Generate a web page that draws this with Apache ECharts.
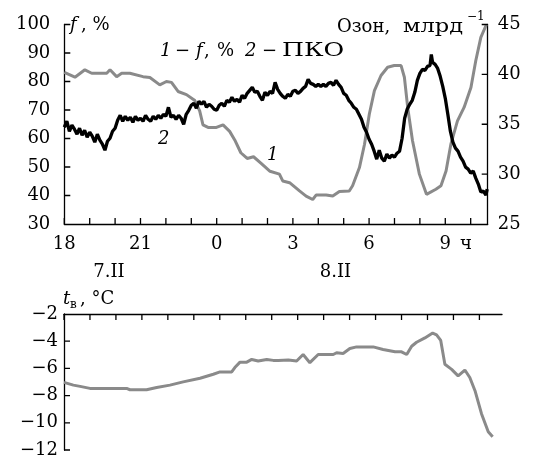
<!DOCTYPE html>
<html>
<head>
<meta charset="utf-8">
<script src="https://cdn.jsdelivr.net/npm/echarts@6/dist/echarts.min.js"></script>
<style>html,body{margin:0;padding:0;background:#fff}#c{width:534px;height:459px}</style>
</head>
<body>
<div id="c"></div>
<script>
// ---- data (x = hours since 18:00 on 7.II) ----
const hourTicks = [0,1,2,3,4,5,6,7,8,9,10,11,12,13,14,15,16];
const hourLabelValues = [0,3,6,9,12,15];
const hourLabels = ['18','21','0','3','6','9'];
const fTicks = [40,50,60,70,80,90,100];
const ozTicks = [30,35,40,45];
const tTicks = [-12,-10,-8,-6,-4];

// curve 1: relative humidity f, %
const fTime = [0,0.42,0.81,1.08,1.67,1.80,2.06,2.26,2.58,3.10,3.37,3.76,4.02,4.22,4.48,4.81,5.14,5.33,5.46,5.66,5.99,6.25,6.51,6.71,6.95,7.2,7.45,7.75,8.1,8.47,8.6,8.87,9.26,9.52,9.78,9.92,10.31,10.57,10.83,11.22,11.35,11.62,11.82,12.01,12.21,12.47,12.73,12.99,13.26,13.39,13.52,13.71,13.98,14.26,14.63,14.83,15.03,15.22,15.48,15.74,16.01,16.20,16.40,16.62];
const fValues = [83.2,81.5,84.1,82.9,82.9,84.1,81.7,82.9,82.9,81.7,81.4,78.8,80,79.7,76.5,75.4,73.3,69.7,64.8,63.9,63.9,64.8,62.5,59.5,55,53,53.6,51.3,48.5,47.5,45.1,44.5,41.6,39.8,38.6,40.2,40.2,39.8,41.4,41.6,43.4,49.8,58,68.6,76.8,82.1,85,85.6,85.6,81.5,70.9,59.2,47.5,40.4,42.2,43.4,48.6,58,66.2,70.9,77.9,87.3,95.5,100];

// curve 2: surface ozone concentration (ПКО), ppb
const ozTime = [0,0.1,0.2,0.3,0.4,0.5,0.6,0.7,0.8,0.9,1.0,1.1,1.2,1.3,1.4,1.5,1.6,1.7,1.8,1.9,2.0,2.1,2.2,2.3,2.4,2.5,2.6,2.7,2.8,2.9,3.0,3.1,3.2,3.3,3.4,3.5,3.6,3.7,3.8,3.9,4.0,4.1,4.2,4.3,4.4,4.5,4.6,4.7,4.8,4.9,5.0,5.1,5.2,5.3,5.4,5.5,5.6,5.7,5.8,5.9,6.0,6.1,6.2,6.3,6.4,6.5,6.6,6.7,6.8,6.9,7.0,7.1,7.2,7.3,7.4,7.5,7.6,7.7,7.8,7.9,8.0,8.1,8.2,8.3,8.4,8.5,8.6,8.7,8.8,8.9,9.0,9.1,9.2,9.3,9.4,9.5,9.6,9.7,9.8,9.9,10.0,10.1,10.2,10.3,10.4,10.5,10.6,10.7,10.8,10.9,11.0,11.1,11.2,11.3,11.4,11.5,11.6,11.7,11.8,11.9,12.0,12.1,12.2,12.3,12.4,12.5,12.6,12.7,12.8,12.9,13.0,13.1,13.2,13.3,13.4,13.5,13.6,13.7,13.8,13.9,14.0,14.1,14.2,14.3,14.4,14.45,14.5,14.6,14.7,14.8,14.9,15.0,15.1,15.2,15.3,15.4,15.5,15.6,15.7,15.8,15.9,16.0,16.1,16.2,16.3,16.4,16.5,16.6,16.65];
const ozValues = [34.7,35.3,34.3,34.9,34.5,34.0,34.6,33.9,34.4,33.7,34.2,33.8,33.2,34.0,33.4,33.0,32.4,33.3,33.6,34.3,34.6,35.4,35.9,35.3,35.8,35.4,35.7,35.2,35.8,35.4,35.6,35.3,35.9,35.5,35.3,35.8,35.5,35.9,35.6,36.0,35.8,36.7,35.7,35.9,35.5,35.9,35.6,35.0,36.0,36.4,36.9,37.1,36.6,37.3,37.0,37.3,36.7,37.0,36.8,36.5,36.4,36.9,37.1,36.8,37.4,37.2,37.7,37.3,37.5,37.2,37.9,37.6,38.1,38.4,38.7,38.2,38.3,37.8,37.4,38.2,37.9,38.3,38.1,39.2,38.5,38.1,37.8,37.6,38.0,37.8,38.3,38.4,38.1,38.3,38.6,38.8,39.5,39.1,39.0,38.8,39.0,38.8,39.0,38.8,39.1,39.2,38.9,39.4,39.0,38.7,38.1,37.9,37.4,37.1,36.7,36.5,36.0,35.5,34.7,34.2,33.5,33.0,32.3,31.5,32.4,31.6,31.3,32.0,31.6,31.9,31.7,32.1,32.3,33.6,35.6,36.5,37.0,37.4,38.2,39.4,40.1,40.5,40.4,40.8,40.9,42.0,41.2,41.0,40.6,39.8,38.8,37.6,36.0,34.3,33.2,32.6,32.3,31.7,31.3,30.7,30.5,30.1,30.3,29.6,29.0,28.2,28.3,27.9,28.5];

// air temperature t_в, °C
const tTime = [0,0.36,0.62,1.0,1.77,2.41,2.54,3.18,3.57,4.08,4.59,5.24,5.75,6.01,6.46,6.58,6.78,7.04,7.23,7.48,7.81,8.06,8.25,8.64,8.96,9.21,9.47,9.79,10.37,10.50,10.75,11.01,11.27,11.91,12.29,12.75,13.00,13.20,13.39,13.58,13.90,14.20,14.35,14.51,14.67,14.93,15.18,15.44,15.63,15.83,16.08,16.34,16.51];
const tValues = [-7.03,-7.23,-7.32,-7.47,-7.47,-7.47,-7.57,-7.57,-7.40,-7.23,-6.99,-6.72,-6.43,-6.26,-6.26,-5.94,-5.54,-5.54,-5.34,-5.46,-5.34,-5.41,-5.41,-5.39,-5.46,-4.98,-5.58,-4.98,-4.98,-4.85,-4.90,-4.54,-4.42,-4.42,-4.61,-4.78,-4.78,-4.98,-4.37,-4.08,-3.76,-3.40,-3.53,-3.94,-5.70,-6.07,-6.55,-6.12,-6.67,-7.64,-9.33,-10.66,-11.03];

const FONT = 'DejaVu Serif';
const GRAY = '#8a8a8a';
const G0 = {left: 64.3, top: 24.5, width: 423.4, height: 199.5};
const G1 = {left: 64, top: 314, width: 438, height: 137.7};
const X0_MAX = 16.67, X1_MAX = 16.87;
const F_MIN = 30, F_MAX = 100, OZ_MIN = 25, OZ_MAX = 45, T_MIN = -12, T_MAX = -2;
const TICK_PX = 6;
const pair = (xs, ys) => xs.map((x, i) => [x, ys[i]]);

// tick length converted from pixels into each axis' data units
const tkX0 = TICK_PX * X0_MAX / G0.width;
const tkF  = TICK_PX * (F_MAX - F_MIN) / G0.height;
const tkX1 = TICK_PX * X1_MAX / G1.width;
const tkT  = TICK_PX * (T_MAX - T_MIN) / G1.height;

// inside tick marks as broken line segments (a gap '-' separates each tick)
function segs(values, mk) {
  const out = [];
  values.forEach(v => { const s = mk(v); out.push(s[0], s[1], ['-', '-']); });
  return out;
}
function tickLine(xi, yi, data) {
  return {type: 'line', xAxisIndex: xi, yAxisIndex: yi, data: data, showSymbol: false, symbol: 'none',
    silent: true, clip: false, connectNulls: false, z: 5, lineStyle: {color: '#000', width: 1.3}};
}

const chart = echarts.init(document.getElementById('c'), null, {renderer: 'canvas'});
const lbl = {fontFamily: FONT, fontSize: 18, color: '#000'};
const axLine = () => ({show: true, onZero: false, lineStyle: {color: '#000', width: 1.3}});

function txt(x, y, text, opt) {
  opt = opt || {};
  return {type: 'text', x: x, y: y, scaleX: opt.sx || 1, z: 10,
    style: {text: text, fill: '#000', align: opt.align || 'left', verticalAlign: 'middle',
      font: (opt.italic ? 'italic ' : '') + (opt.size || 18) + 'px ' + FONT}};
}

chart.setOption({
  animation: false,
  backgroundColor: '#fff',
  grid: [G0, G1],
  xAxis: [
    {type: 'value', gridIndex: 0, min: 0, max: X0_MAX, interval: 1, position: 'bottom',
     axisLine: axLine(), axisTick: {show: false}, splitLine: {show: false},
     axisLabel: Object.assign({}, lbl, {margin: 11,
       formatter: v => { const r = Math.round(v); const i = hourLabelValues.indexOf(r); return (i >= 0 && Math.abs(v - r) < 1e-6) ? hourLabels[i] : ''; }})},
    {type: 'value', gridIndex: 1, min: 0, max: X1_MAX, interval: 1, position: 'top',
     axisLine: axLine(), axisTick: {show: false}, splitLine: {show: false}, axisLabel: {show: false}}
  ],
  yAxis: [
    {type: 'value', gridIndex: 0, min: F_MIN, max: F_MAX, interval: 10, position: 'left',
     axisLine: axLine(), axisTick: {show: false}, splitLine: {show: false},
     axisLabel: Object.assign({}, lbl, {margin: 14})},
    {type: 'value', gridIndex: 0, min: OZ_MIN, max: OZ_MAX, interval: 5, position: 'right',
     axisLine: axLine(), axisTick: {show: false}, splitLine: {show: false},
     axisLabel: Object.assign({}, lbl, {margin: 10})},
    {type: 'value', gridIndex: 1, min: T_MIN, max: T_MAX, interval: 2, position: 'left',
     axisLine: axLine(), axisTick: {show: false}, splitLine: {show: false},
     axisLabel: Object.assign({}, lbl, {margin: 6, formatter: v => String(v).replace('-', '\u2212')})}
  ],
  series: [
    {type: 'line', xAxisIndex: 0, yAxisIndex: 0, data: pair(fTime, fValues), showSymbol: false,
     lineStyle: {color: GRAY, width: 3}, z: 2},
    {type: 'line', xAxisIndex: 0, yAxisIndex: 1, data: pair(ozTime, ozValues), showSymbol: false,
     lineStyle: {color: '#000', width: 3.3}, z: 3},
    {type: 'line', xAxisIndex: 1, yAxisIndex: 2, data: pair(tTime, tValues), showSymbol: false,
     lineStyle: {color: GRAY, width: 3}, z: 2},
    tickLine(0, 0, segs(hourTicks, h => [[h, F_MIN], [h, F_MIN + tkF]])),
    tickLine(0, 0, segs(fTicks, v => [[0, v], [tkX0, v]])),
    tickLine(0, 1, segs(ozTicks, v => [[X0_MAX - tkX0, v], [X0_MAX, v]])),
    tickLine(1, 2, segs(hourTicks, h => [[h, T_MAX], [h, T_MAX - tkT]])),
    tickLine(1, 2, segs(tTicks, v => [[0, v], [tkX1, v]]))
  ],
  graphic: [
    txt(70, 25, 'f', {italic: true}),
    txt(81, 25, ', %'),
    txt(337, 27, 'Озон,'),
    txt(403, 27, 'млрд', {sx: 1.25}),
    txt(467, 17, '\u22121', {size: 12}),
    txt(160, 51, '1', {italic: true}),
    txt(175, 51, '\u2212'),
    txt(196, 51, 'f', {italic: true}),
    txt(204, 51, ','),
    txt(217, 51, '%'),
    txt(245, 51, '2', {italic: true}),
    txt(262, 51, '\u2212'),
    txt(282, 51, 'ПКО', {sx: 1.4}),
    txt(158, 139, '2', {italic: true}),
    txt(267, 155, '1', {italic: true}),
    txt(460, 244.5, 'ч'),
    txt(109, 272.5, '7.II', {align: 'center'}),
    txt(335.5, 272.5, '8.II', {align: 'center'}),
    txt(63, 299, 't', {italic: true}),
    txt(70, 305, 'в', {size: 12}),
    txt(80, 299, ', °C')
  ]
});
</script>
</body>
</html>
